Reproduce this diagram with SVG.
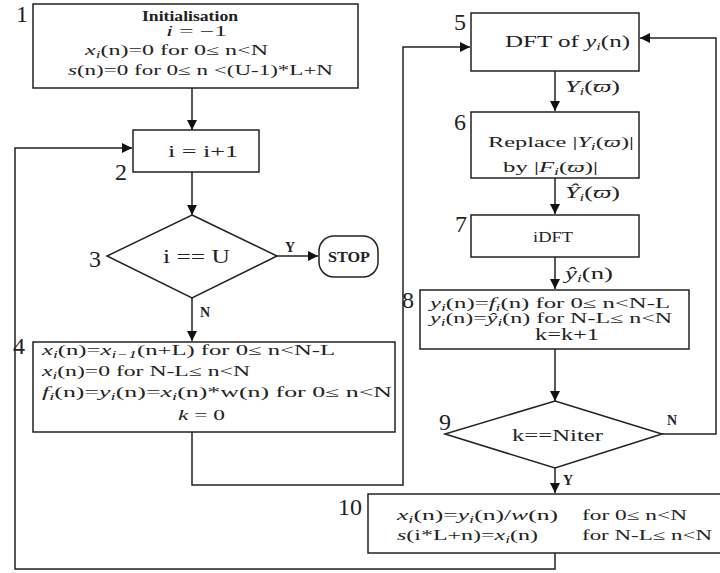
<svg xmlns="http://www.w3.org/2000/svg" width="720" height="573" viewBox="0 0 720 573">
<style>
.b{fill:#fff;stroke:#222;stroke-width:1.5}
.c{fill:none;stroke:#222;stroke-width:1.5}
text{font-family:"Liberation Serif","DejaVu Serif",serif;fill:#222}
.m{font-size:14px}
.n{font-size:24px}
.lb{font-size:14px;font-weight:bold}
.i{font-style:italic}
.sub{font-size:10px;font-style:italic}
</style>
<defs>
<marker id="ah" markerWidth="10" markerHeight="10" refX="10" refY="5" orient="auto" markerUnits="userSpaceOnUse">
<path d="M0,0 L10,5 L0,10 Z" fill="#111"/>
</marker>
</defs>
<g id="connectors">
<path class="c" d="M192,88 V130" marker-end="url(#ah)"/>
<path class="c" d="M192,172 V215" marker-end="url(#ah)"/>
<path class="c" d="M277,256 H318" marker-end="url(#ah)"/>
<path class="c" d="M192,298 V341" marker-end="url(#ah)"/>
<path class="c" d="M192,432 V485 H403 V47 H470" marker-end="url(#ah)"/>
<path class="c" d="M555,71 V111" marker-end="url(#ah)"/>
<path class="c" d="M555,178 V214" marker-end="url(#ah)"/>
<path class="c" d="M555,257 V289" marker-end="url(#ah)"/>
<path class="c" d="M555,349 V401" marker-end="url(#ah)"/>
<path class="c" d="M662,434 H716 V38 H640" marker-end="url(#ah)"/>
<path class="c" d="M555,468 V493" marker-end="url(#ah)"/>
<path class="c" d="M555,553 V569 H15 V148 H132" marker-end="url(#ah)"/>
<text class="lb" x="290" y="252" text-anchor="middle">Y</text>
<text class="lb" x="205" y="317" text-anchor="middle">N</text>
<text class="lb" x="672" y="425" text-anchor="middle">N</text>
<text class="lb" x="568" y="485" text-anchor="middle">Y</text>
<text x="565" y="92" font-size="17" textLength="55" lengthAdjust="spacingAndGlyphs"><tspan class="i">Y</tspan><tspan font-size="11" font-style="italic" dy="3">i</tspan><tspan dy="-3">(</tspan><tspan class="i">ϖ</tspan>)</text>
<text x="565" y="198" font-size="17" textLength="55" lengthAdjust="spacingAndGlyphs"><tspan class="i">Ŷ</tspan><tspan font-size="11" font-style="italic" dy="3">i</tspan><tspan dy="-3">(</tspan><tspan class="i">ϖ</tspan>)</text>
<text x="565" y="279" font-size="17" textLength="48" lengthAdjust="spacingAndGlyphs"><tspan class="i">ŷ</tspan><tspan font-size="11" font-style="italic" dy="3">i</tspan><tspan dy="-3">(n)</tspan></text>
</g>
<g id="node1">
<rect class="b" x="33" y="4" width="325" height="84"/>
<text class="n" x="22" y="22" text-anchor="middle">1</text>
<text x="142" y="21" font-size="15" font-weight="bold" textLength="96" lengthAdjust="spacingAndGlyphs">Initialisation</text>
<text class="m" x="166" y="36" textLength="61" lengthAdjust="spacingAndGlyphs"><tspan class="i">i</tspan> = −1</text>
<text class="m" x="85" y="55" textLength="183" lengthAdjust="spacingAndGlyphs"><tspan class="i">x</tspan><tspan class="sub" dy="3">i</tspan><tspan dy="-3">(n)=0 for 0≤ n&lt;N</tspan></text>
<text class="m" x="68" y="75" textLength="265" lengthAdjust="spacingAndGlyphs"><tspan class="i">s</tspan>(n)=0 for 0≤ n &lt;(U-1)*L+N</text>
</g>
<g id="node2">
<rect class="b" x="133" y="130" width="126" height="42"/>
<text class="n" x="121" y="180" text-anchor="middle">2</text>
<text x="168" y="157" font-size="16" textLength="70" lengthAdjust="spacingAndGlyphs">i = i+1</text>
</g>
<g id="node3">
<path class="b" d="M192,215 L277,256 L192,298 L107,256 Z"/>
<text class="n" x="95" y="267" text-anchor="middle">3</text>
<text x="163" y="263" font-size="18" textLength="67" lengthAdjust="spacingAndGlyphs">i == U</text>
</g>
<g id="stop">
<rect class="b" x="319" y="236" width="59" height="41" rx="15"/>
<text x="328" y="262" font-size="14" font-weight="bold" textLength="42" lengthAdjust="spacingAndGlyphs">STOP</text>
</g>
<g id="node4">
<rect class="b" x="33" y="342" width="362" height="90"/>
<text class="n" x="19" y="354" text-anchor="middle">4</text>
<text class="m" x="42" y="355" textLength="293" lengthAdjust="spacingAndGlyphs"><tspan class="i">x</tspan><tspan class="sub" dy="3">i</tspan><tspan dy="-3">(n)=</tspan><tspan class="i">x</tspan><tspan class="sub" dy="3">i−1</tspan><tspan dy="-3">(n+L)  for  0≤ n&lt;N-L</tspan></text>
<text class="m" x="42" y="376" textLength="208" lengthAdjust="spacingAndGlyphs"><tspan class="i">x</tspan><tspan class="sub" dy="3">i</tspan><tspan dy="-3">(n)=0 for N-L≤ n&lt;N</tspan></text>
<text class="m" x="42" y="397" textLength="350" lengthAdjust="spacingAndGlyphs"><tspan class="i">f</tspan><tspan class="sub" dy="3">i</tspan><tspan dy="-3">(n)=</tspan><tspan class="i">y</tspan><tspan class="sub" dy="3">i</tspan><tspan dy="-3">(n)=</tspan><tspan class="i">x</tspan><tspan class="sub" dy="3">i</tspan><tspan dy="-3">(n)*w(n)   for  0≤ n&lt;N</tspan></text>
<text class="m" x="178" y="420" textLength="47" lengthAdjust="spacingAndGlyphs"><tspan class="i">k</tspan> = 0</text>
</g>
<g id="node5">
<rect class="b" x="471" y="13" width="168" height="58"/>
<text class="n" x="460" y="30" text-anchor="middle">5</text>
<text x="505" y="47" font-size="17" textLength="125" lengthAdjust="spacingAndGlyphs">DFT of <tspan class="i">y</tspan><tspan font-size="11" font-style="italic" dy="3">i</tspan><tspan dy="-3">(n)</tspan></text>
</g>
<g id="node6">
<rect class="b" x="471" y="112" width="168" height="66"/>
<text class="n" x="460" y="130" text-anchor="middle">6</text>
<text class="m" x="488" y="147" textLength="146" lengthAdjust="spacingAndGlyphs">Replace |<tspan class="i">Y</tspan><tspan class="sub" dy="3">i</tspan><tspan dy="-3">(</tspan><tspan class="i">ϖ</tspan>)|</text>
<text class="m" x="503" y="172" textLength="95" lengthAdjust="spacingAndGlyphs">by |<tspan class="i">F</tspan><tspan class="sub" dy="3">i</tspan><tspan dy="-3">(</tspan><tspan class="i">ϖ</tspan>)|</text>
</g>
<g id="node7">
<rect class="b" x="471" y="215" width="168" height="42"/>
<text class="n" x="461" y="232" text-anchor="middle">7</text>
<text x="533" y="242" font-size="14" textLength="40" lengthAdjust="spacingAndGlyphs">iDFT</text>
</g>
<g id="node8">
<rect class="b" x="420" y="290" width="269" height="59"/>
<text class="n" x="408" y="308" text-anchor="middle">8</text>
<text class="m" x="430" y="308" textLength="240" lengthAdjust="spacingAndGlyphs"><tspan class="i">y</tspan><tspan class="sub" dy="3">i</tspan><tspan dy="-3">(n)=</tspan><tspan class="i">f</tspan><tspan class="sub" dy="3">i</tspan><tspan dy="-3">(n)  for  0≤ n&lt;N-L</tspan></text>
<text class="m" x="430" y="323" textLength="242" lengthAdjust="spacingAndGlyphs"><tspan class="i">y</tspan><tspan class="sub" dy="3">i</tspan><tspan dy="-3">(n)=</tspan><tspan class="i">ŷ</tspan><tspan class="sub" dy="3">i</tspan><tspan dy="-3">(n)  for  N-L≤ n&lt;N</tspan></text>
<text x="535" y="340" font-size="16" textLength="64" lengthAdjust="spacingAndGlyphs">k=k+1</text>
</g>
<g id="node9">
<path class="b" d="M555,401 L662,434 L555,468 L445,434 Z"/>
<text class="n" x="445" y="430" text-anchor="middle">9</text>
<text x="512" y="441" font-size="16" textLength="91" lengthAdjust="spacingAndGlyphs">k==Niter</text>
</g>
<g id="node10">
<rect class="b" x="368" y="494" width="360" height="59"/>
<text class="n" x="350" y="515" text-anchor="middle">10</text>
<text class="m" x="397" y="520" textLength="161" lengthAdjust="spacingAndGlyphs"><tspan class="i">x</tspan><tspan class="sub" dy="3">i</tspan><tspan dy="-3">(n)=</tspan><tspan class="i">y</tspan><tspan class="sub" dy="3">i</tspan><tspan dy="-3">(n)/</tspan><tspan class="i">w</tspan>(n)</text>
<text class="m" x="582" y="520" textLength="105" lengthAdjust="spacingAndGlyphs">for 0≤ n&lt;N</text>
<text class="m" x="397" y="540" textLength="141" lengthAdjust="spacingAndGlyphs"><tspan class="i">s</tspan>(i*L+n)=<tspan class="i">x</tspan><tspan class="sub" dy="3">i</tspan><tspan dy="-3">(n)</tspan></text>
<text class="m" x="582" y="540" textLength="130" lengthAdjust="spacingAndGlyphs">for N-L≤ n&lt;N</text>
</g>
</svg>
